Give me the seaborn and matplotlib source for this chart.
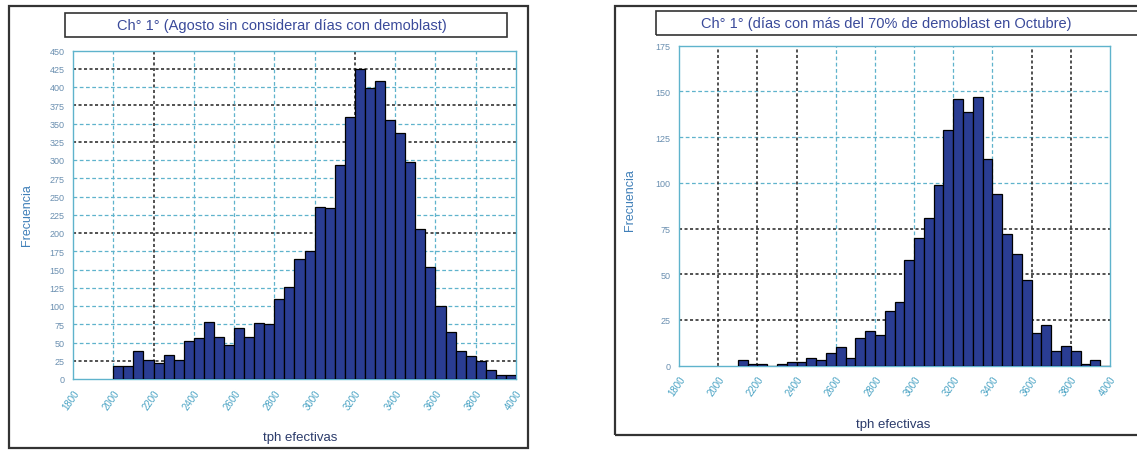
import numpy as np
import matplotlib
matplotlib.use("Agg")
import matplotlib.pyplot as plt
import seaborn as sns
from matplotlib.patches import Rectangle

# --- data -----------------------------------------------------------------
bin_width = 50

left_bins = list(range(2000, 4000, bin_width))
left_counts = [18, 18, 39, 26, 22, 33, 26, 52, 56, 78,
               58, 46, 70, 58, 77, 76, 109, 126, 165, 175,
               235, 234, 293, 359, 425, 398, 408, 355, 337, 297,
               206, 154, 100, 65, 38, 31, 24, 13, 6, 6]

right_bins = list(range(2100, 4000, bin_width))
right_counts = [3, 1, 1, 0, 1, 2, 2, 4, 3, 7,
                10, 4, 15, 19, 17, 30, 35, 58, 70, 81,
                99, 129, 146, 139, 147, 113, 94, 72, 61, 47,
                18, 22, 8, 11, 8, 1, 3, 0]

x_ticks = list(range(1800, 4001, 200))
left_yticks = list(range(0, 451, 25))
right_yticks = list(range(0, 176, 25))

left_title = "Ch° 1° (Agosto sin considerar días con demoblast)"
right_title = "Ch° 1° (días con más del 70% de demoblast en Octubre)"

# --- style ----------------------------------------------------------------
sns.set_style("white")
plt.rcParams["font.family"] = ["Liberation Sans", "DejaVu Sans"]

BAR = "#2a3d93"
TEAL = "#5fb3cc"
DARK = "#222222"
TICKC = "#4aa3c4"

W, H = 1137, 452
fig = plt.figure(figsize=(W / 100, H / 100), dpi=100)


def fx(px):
    return px / W


def fy(py):
    return 1 - py / H


def panel(rect, bins, counts, ymax, yticks, hblack, vblack):
    ax = fig.add_axes(rect)
    edges = bins + [bins[-1] + bin_width]
    sns.histplot(x=bins, weights=counts, bins=edges, ax=ax,
                 color=BAR, alpha=1, edgecolor="black", linewidth=0.9,
                 zorder=3)
    ax.set_xlim(1800, 4000)
    ax.set_ylim(0, ymax)
    ax.set_xticks(x_ticks)
    ax.set_xticklabels([str(t) for t in x_ticks], rotation=55,
                       ha="right", va="top", rotation_mode="anchor",
                       fontsize=7, color=TICKC)
    ax.set_yticks(yticks)
    ax.set_yticklabels([str(t) for t in yticks], fontsize=6.5, color="#6a8fb0")
    ax.tick_params(axis="both", length=3, width=0.8, color=DARK, pad=3)
    ax.set_xlabel("")
    ax.set_ylabel("")

    # grid: mostly light teal dashes, a few black dotted ones
    for y in yticks[1:-1]:
        black = y in hblack
        ax.axhline(y, color=DARK if black else TEAL,
                   ls=(0, (2, 1.6)) if black else (0, (3, 2)),
                   lw=1.1 if black else 0.9, zorder=1)
    for x in x_ticks[1:-1]:
        black = x in vblack
        ax.axvline(x, color=DARK if black else TEAL,
                   ls=(0, (2, 1.6)) if black else (0, (3, 2)),
                   lw=1.1 if black else 0.9, zorder=1)

    for s in ax.spines.values():
        s.set_color(TEAL)
        s.set_linewidth(1.0)
    return ax


ax1 = panel([fx(73), fy(380), fx(516 - 73), (380 - 51.5) / H],
            left_bins, left_counts, 450, left_yticks,
            hblack=[25, 200, 325, 375, 425], vblack=[2200, 3200])
ax2 = panel([fx(679), fy(366.7), fx(1110 - 679), (366.7 - 46.7) / H],
            right_bins, right_counts, 175, right_yticks,
            hblack=[25, 50, 75], vblack=[2000, 2200, 2400, 3600, 3800])

# outer frames and title boxes
fig.add_artist(Rectangle((fx(9), fy(449)), fx(528 - 9), (449 - 7) / H,
                         transform=fig.transFigure, fill=False,
                         ec="#333333", lw=1.6))
fig.add_artist(Rectangle((fx(615), fy(436)), fx(1150 - 615), (436 - 7) / H,
                         transform=fig.transFigure, fill=False,
                         ec="#333333", lw=1.6))
fig.add_artist(Rectangle((fx(65), fy(38)), fx(507 - 65), 24 / H,
                         transform=fig.transFigure, fill=False,
                         ec="#333333", lw=1.2))
fig.add_artist(Rectangle((fx(656), fy(36)), fx(1150 - 656), 24 / H,
                         transform=fig.transFigure, fill=False,
                         ec="#333333", lw=1.2))

fig.text(fx(282), fy(26), left_title, ha="center", va="center",
         fontsize=10.5, color="#3a4a9a")
fig.text(fx(886), fy(24), right_title, ha="center", va="center",
         fontsize=10.5, color="#3a4a9a")

fig.text(fx(300), fy(438), "tph efectivas", ha="center", va="center",
         fontsize=9.5, color="#2a3a6a")
fig.text(fx(893), fy(425), "tph efectivas", ha="center", va="center",
         fontsize=9.5, color="#2a3a6a")
fig.text(fx(27), fy(215), "Frecuencia", ha="center", va="center",
         rotation=90, fontsize=9, color="#3f7fb8")
fig.text(fx(630), fy(200), "Frecuencia", ha="center", va="center",
         rotation=90, fontsize=9, color="#3f7fb8")

fig.savefig("out.png", dpi=100)
